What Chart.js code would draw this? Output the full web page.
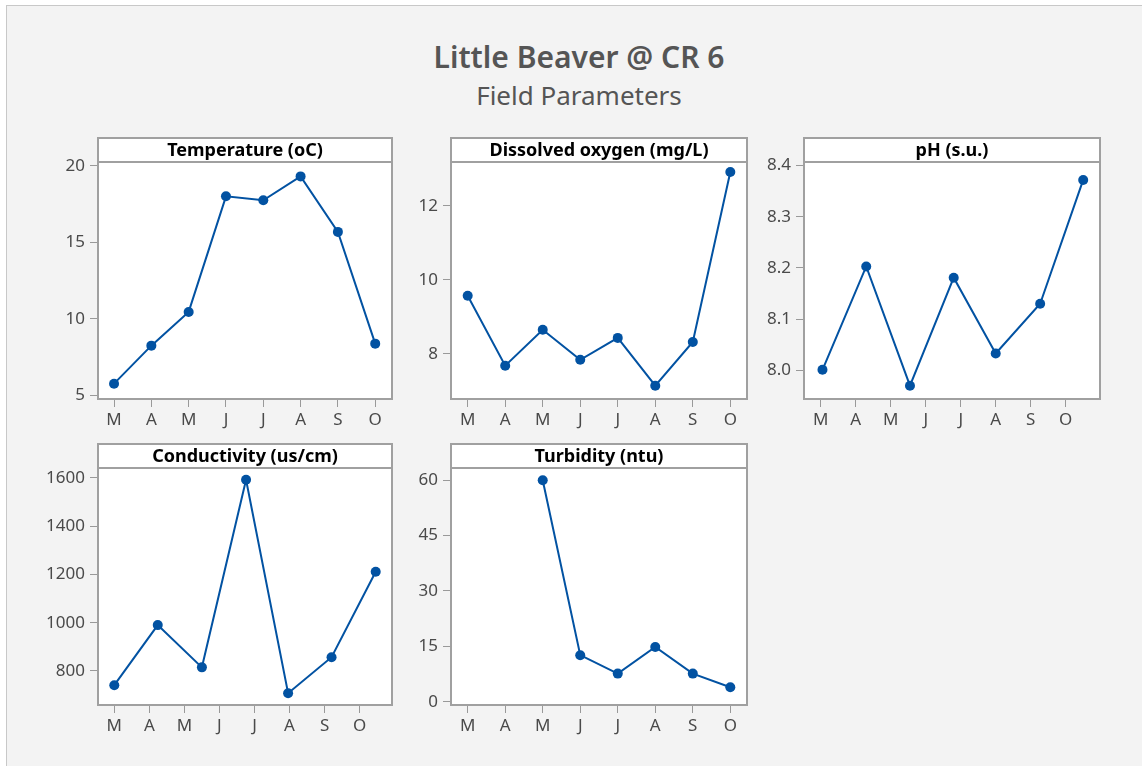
<!DOCTYPE html>
<html>
<head>
<meta charset="utf-8">
<script src="https://cdn.jsdelivr.net/npm/chart.js@4"></script>
<style>
  body { margin: 0; background: #fff; font-family: "Noto Sans", sans-serif; }
  #page { position: absolute; left: 6px; top: 5px; width: 1136px; height: 761px;
          background: #f3f3f3; border-top: 1px solid #c8c8c8; border-left: 1px solid #c8c8c8; }
  .ttl { position: absolute; left: 279px; width: 600px; text-align: center; color: #555; white-space: nowrap; }
  #t1 { top: 39px; font-size: 30px; font-weight: 600; line-height: 35px; }
  #t2 { top: 80px; font-size: 26px; font-weight: 400; line-height: 30px; }
  canvas { position: absolute; }
</style>
</head>
<body>
<div id="page"></div>
<div class="ttl" id="t1">Little Beaver @ CR 6</div>
<div class="ttl" id="t2">Field Parameters</div>
<canvas id="c1"></canvas>
<canvas id="c2"></canvas>
<canvas id="c3"></canvas>
<canvas id="c4"></canvas>
<canvas id="c5"></canvas>
<script>
// --- data ---
const months = ["M", "A", "M", "J", "J", "A", "S", "O"];
const monthTicks = [0, 1, 2, 3, 4, 5, 6, 7];

const tempX = [0, 1, 2, 3, 4, 5, 6, 7];
const tempY = [5.78, 8.26, 10.46, 18.0, 17.74, 19.3, 15.68, 8.39];
const tempTicks = [5, 10, 15, 20];

const doX = [0, 1, 2, 3, 4, 5, 6, 7];
const doY = [9.57, 7.68, 8.65, 7.84, 8.43, 7.14, 8.32, 12.91];
const doTicks = [8, 10, 12];

const phX = [0.05, 1.3, 2.55, 3.8, 5.0, 6.27, 7.5];
const phY = [8.001, 8.203, 7.97, 8.181, 8.033, 8.13, 8.372];
const phTicks = [8.0, 8.1, 8.2, 8.3, 8.4];

const condX = [0, 1.24, 2.5, 3.76, 4.96, 6.2, 7.46];
const condY = [741, 990, 815, 1592, 708, 857, 1211];
const condTicks = [800, 1000, 1200, 1400, 1600];

const turbX = [2, 3, 4, 5, 6, 7];
const turbY = [60, 12.6, 7.6, 14.8, 7.6, 3.9];
const turbTicks = [0, 15, 30, 45, 60];

const FONT = '"Noto Sans", sans-serif';
const BLUE = "#0252a2";
Chart.defaults.font.family = FONT;

const AXIS_W = 60, AXIS_H = 36, HEAD_H = 24;

// white plot area, header strip and grey frame
const framePlugin = {
  id: "frame",
  beforeDraw(chart) {
    const { ctx, chartArea: a } = chart;
    ctx.save();
    ctx.fillStyle = "#fff";
    ctx.fillRect(a.left, a.top - HEAD_H, a.right - a.left, a.bottom - a.top + HEAD_H);
    ctx.restore();
  },
  afterDraw(chart) {
    const { ctx, chartArea: a } = chart;
    ctx.save();
    ctx.strokeStyle = "#a0a0a0";
    ctx.lineWidth = 2;
    ctx.strokeRect(a.left, a.top - HEAD_H, a.right - a.left, a.bottom - a.top + HEAD_H);
    ctx.beginPath();
    ctx.moveTo(a.left, a.top);
    ctx.lineTo(a.right, a.top);
    ctx.stroke();
    ctx.restore();
  }
};

function panel(id, box, title, xs, ys, xMin, xMax, yMin, yMax, yTicks, dec) {
  const cv = document.getElementById(id);
  cv.width = box.w + AXIS_W + 6;
  cv.height = box.h + 2 + AXIS_H;
  cv.style.left = (box.left - AXIS_W) + "px";
  cv.style.top = (box.top - 2) + "px";

  new Chart(cv, {
    type: "line",
    data: {
      datasets: [{
        data: xs.map((x, i) => ({ x, y: ys[i] })),
        borderColor: BLUE,
        backgroundColor: BLUE,
        borderWidth: 2,
        pointRadius: 5,
        pointBorderWidth: 0,
        tension: 0
      }]
    },
    options: {
      responsive: false,
      animation: false,
      devicePixelRatio: 1,
      layout: { padding: { top: 2, right: 6, left: 0, bottom: 0 } },
      plugins: {
        legend: { display: false },
        tooltip: { enabled: false },
        title: {
          display: true, text: title, fullSize: false, color: "#000",
          font: { size: 18, weight: "bold", lineHeight: 1 }, padding: { top: 4, bottom: 2 }
        }
      },
      scales: {
        x: {
          type: "linear", min: xMin, max: xMax,
          afterBuildTicks: s => { s.ticks = monthTicks.map(v => ({ value: v })); },
          afterFit: s => { s.height = AXIS_H; },
          grid: { drawOnChartArea: false, tickLength: 8, color: "#999" },
          border: { display: false },
          ticks: { callback: (v, i) => months[i], color: "#4a4a4a", font: { size: 17 },
                   padding: 3, maxRotation: 0, autoSkip: false }
        },
        y: {
          min: yMin, max: yMax,
          afterBuildTicks: s => { s.ticks = yTicks.map(v => ({ value: v })); },
          afterFit: s => { s.width = AXIS_W; },
          grid: { drawOnChartArea: false, tickLength: 8, color: "#999" },
          border: { display: false },
          ticks: { callback: v => v.toFixed(dec), color: "#4a4a4a", font: { size: 17 },
                   padding: 5, autoSkip: false }
        }
      }
    },
    plugins: [framePlugin]
  });
}

panel("c1", { left: 98, top: 138, w: 294, h: 261 }, "Temperature (oC)",
      tempX, tempY, -0.43, 7.45, 4.78, 20.24, tempTicks, 0);
panel("c2", { left: 451, top: 138, w: 296, h: 261 }, "Dissolved oxygen (mg/L)",
      doX, doY, -0.445, 7.445, 6.78, 13.18, doTicks, 0);
panel("c3", { left: 804, top: 138, w: 296, h: 261 }, "pH (s.u.)",
      phX, phY, -0.478, 7.98, 7.944, 8.407, phTicks, 1);
panel("c4", { left: 98, top: 444, w: 294, h: 261 }, "Conductivity (us/cm)",
      condX, condY, -0.465, 7.925, 659, 1641, condTicks, 0);
panel("c5", { left: 451, top: 444, w: 296, h: 261 }, "Turbidity (ntu)",
      turbX, turbY, -0.445, 7.445, -0.9, 63.3, turbTicks, 0);
</script>
</body>
</html>
